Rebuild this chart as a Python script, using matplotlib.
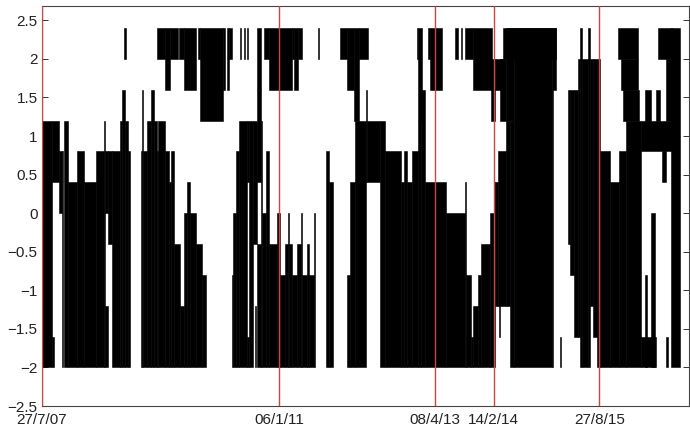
import numpy as np
import matplotlib
matplotlib.use('Agg')
import matplotlib.pyplot as plt
import matplotlib.dates as mdates

plt.rcParams['font.family'] = ['Liberation Sans', 'DejaVu Sans']

# ---------------- data ----------------
start_date = np.datetime64('2007-07-27')   # week 0
n_weeks = 490                              # span of the time axis, in weeks

# lower filled blocks: start week, end week, lower value, upper value
lower_start = [0, 8, 8, 13, 15, 17, 20, 27, 32, 41, 47, 48, 48, 50, 53, 59, 61, 63, 65,
               75, 76, 77, 80, 83, 85, 87, 88, 93, 96, 98, 100, 105, 108, 110, 112, 117, 121,
               144, 145, 147, 149, 155, 155, 157, 160, 161, 163, 163, 166, 167, 170, 172, 178,
               180, 184, 186, 187, 189, 193, 196, 197, 201, 202, 206,
               215, 217, 231, 233, 237, 245, 246, 256, 260, 272, 274, 276, 280, 285, 287, 290,
               306, 320, 321, 325, 326, 330, 332, 339, 342, 343, 345, 346, 351, 354, 357, 386,
               392, 398, 400, 403, 406, 407, 409, 413, 415, 417, 420, 422, 430, 437, 442,
               453, 453, 456, 461, 469, 472, 476]
lower_end = [8, 9, 13, 15, 16, 20, 27, 32, 41, 47, 48, 50, 50, 53, 59, 61, 63, 65, 67,
             76, 77, 80, 83, 85, 87, 88, 93, 96, 98, 100, 105, 108, 110, 112, 117, 121, 124,
             145, 147, 149, 155, 157, 157, 160, 163, 162, 166, 166, 167, 170, 172, 178, 180,
             184, 186, 187, 189, 193, 196, 197, 201, 202, 206, 207,
             217, 220, 233, 237, 245, 246, 256, 260, 272, 274, 276, 280, 285, 287, 290, 306,
             320, 321, 325, 326, 330, 332, 339, 342, 343, 345, 351, 347, 354, 357, 386, 387,
             393, 400, 403, 406, 407, 409, 413, 415, 417, 420, 422, 430, 437, 442, 453,
             477, 465, 458, 464, 472, 474, 483]
lower_low = [-2, -2, 0.4, 0, -2, -2, -2, -2, -2, -2, -2, 0, -2, -0.4, -2, -2, -2, -2, -2,
             -2, -2, -2, -2, -2, -2, -2, -2, -2, -2, -2, -2, -2, -2, -2, -2, -2, -2,
             -2, -2, -2, -2, 0.4, -2, -2, -0.4, -2, 0.4, -2, -2, -2, -2, -2, -2,
             -2, -2, -2, -2, -2, -2, -2, -2, -2, -2, -2,
             -2, -2, -2, -2, -2, 0.4, 0.4, -2, -2, -2, -2, -2, -2, -2, -2, -2,
             -2, -2, -2, -2, -2, -2, -2, -2, -2, -1.2, -1.2, -1.6, -1.2, -2, -2, -2,
             -2, -0.4, -0.8, -1.6, -1.6, -2, -2, -2, -1.2, -1.6, -2, -2, -2, -2, -2,
             0.8, -2, -2, -2, 0.4, -2, -2]
lower_high = [1.2, -1.6, 1.2, 0.8, 0.8, 1.2, 0.4, 0.8, 0.4, 0.8, 1.2, 0.8, -1.2, 0.8, 0.8, 1.2, 1.6, 1.2, 0.8,
              0.8, 1.6, 0.8, 1.2, 1.6, 1.2, 0.8, 1.2, 0.8, 0.4, 0.8, -0.4, -1.2, 0, 0.4, 0, -0.4, -0.8,
              -0.8, 0, 0.8, 1.2, 1.2, -1.6, 1.2, 1.2, -1.2, 1.6, -0.4, 1.2, 0, 0.8, -0.4, 0,
              -0.8, -0.4, 0, -0.4, -0.8, -0.4, 0, -0.8, -0.4, -0.8, 0,
              0.8, 0.4, -0.8, 0.4, 1.2, 1.6, 1.2, 1.2, 0.8, 0.4, 0.8, 0.4, 0.8, 1.2, 1.6, 0.4,
              0, 0.4, -0.8, -1.6, -1.2, -0.8, -0.4, 0, 0.4, 0.4, 0.8, -1.2, 1.2, 1.2, 2.4, 1.6,
              -1.6, 1.6, 1.6, 1.6, 2.0, 2.4, 2.0, 2.4, 2.0, 2.0, 2.0, 0.8, 0.4, 0.8, 1.2,
              1.2, -1.6, -0.8, 0, 0.8, -1.6, 2.4]

# upper filled blocks: start week, end week, lower value, upper value
upper_start = [62, 87, 93, 97, 104, 108, 118, 120, 137, 140, 142, 150, 153, 155,
               163, 168, 172, 189, 191, 194, 209, 226, 231, 236, 240, 284, 285, 292, 294,
               313, 317, 320, 326, 340, 343, 347, 349, 351, 386,
               436, 438, 440, 456, 465, 466, 472]
upper_end = [64, 93, 97, 103, 108, 117, 120, 137, 139, 142, 144, 151, 154, 156,
             166, 172, 189, 191, 194, 197, 210, 231, 236, 240, 247, 285, 288, 294, 303,
             315, 318, 326, 341, 343, 349, 351, 389, 357, 389,
             451, 451, 452, 461, 468, 477, 477]
upper_low = [2.0, 2.0, 1.6, 2.0, 2.0, 1.6, 2.0, 1.2, 1.6, 1.6, 2.0, 2.0, 2.0, 2.0,
             1.6, 2.0, 1.6, 2.0, 1.6, 2.0, 2.0, 2.0, 1.6, 1.2, 2.0, 2.0, 1.2, 2.0, 1.6,
             2.0, 2.0, 2.0, 1.6, 1.2, 1.6, 1.2, 2.0, 1.2, 1.6,
             2.0, 1.6, 1.2, 1.2, 1.2, 2.0, 1.2]
upper_high = [2.4, 2.4, 2.4, 2.4, 2.4, 2.4, 2.4, 2.4, 2.4, 2.4, 2.4, 2.4, 2.4, 2.4,
              2.4, 2.4, 2.4, 2.4, 2.4, 2.4, 2.4, 2.4, 2.4, 2.4, 2.4, 2.4, 2.4, 2.4, 2.4,
              2.4, 2.4, 2.4, 2.4, 2.0, 2.0, 2.0, 2.4, 2.4, 2.4,
              2.4, 2.0, 1.6, 1.6, 1.6, 2.4, 2.0]

event_dates = ['2007-07-27', '2011-01-06', '2013-04-08', '2014-02-14', '2015-08-27']
event_labels = ['27/7/07', '06/1/11', '08/4/13', '14/2/14', '27/8/15']
ytick_values = [-2.5, -2, -1.5, -1, -0.5, 0, 0.5, 1, 1.5, 2, 2.5]

# ---------------- plot ----------------
fig = plt.figure(figsize=(6.9, 4.34), dpi=100)
ax = fig.add_axes([0.0604, 0.0645, 0.9388, 0.9224])

week = np.timedelta64(7, 'D')


def week_to_num(w):
    d = (start_date + np.asarray(w) * week).astype('datetime64[D]')
    return mdates.date2num(d.astype(object))


for s_list, e_list, lo_list, hi_list in [(lower_start, lower_end, lower_low, lower_high),
                                         (upper_start, upper_end, upper_low, upper_high)]:
    x0 = week_to_num(s_list)
    widths = (np.array(e_list) - np.array(s_list)) * 7.0
    lows = np.array(lo_list, dtype=float)
    heights = np.array(hi_list, dtype=float) - lows
    ax.bar(x0, heights, width=widths, bottom=lows, align='edge',
           color='black', edgecolor='black', linewidth=0.4, zorder=2)

ev = mdates.date2num([np.datetime64(d).astype(object) for d in event_dates])
for d in ev:
    ax.axvline(d, color='#d0453f', linewidth=1.0, zorder=3)

ax.set_xlim(week_to_num(0), week_to_num(n_weeks))
ax.set_ylim(-2.5, 2.69)

ax.set_xticks(ev)
ax.set_xticklabels(event_labels)
ax.set_yticks(ytick_values)
ax.set_yticklabels([('%g' % v).replace('-', '\u2212') for v in ytick_values])

ax.tick_params(direction='in', length=4, width=0.7, color='#333333',
               labelsize=11, labelcolor='#222222', pad=3,
               top=True, right=True)
ax.tick_params(axis='x', pad=5)
for s in ax.spines.values():
    s.set_color('#444444')
    s.set_linewidth(0.8)

fig.savefig('out.png', dpi=100)
